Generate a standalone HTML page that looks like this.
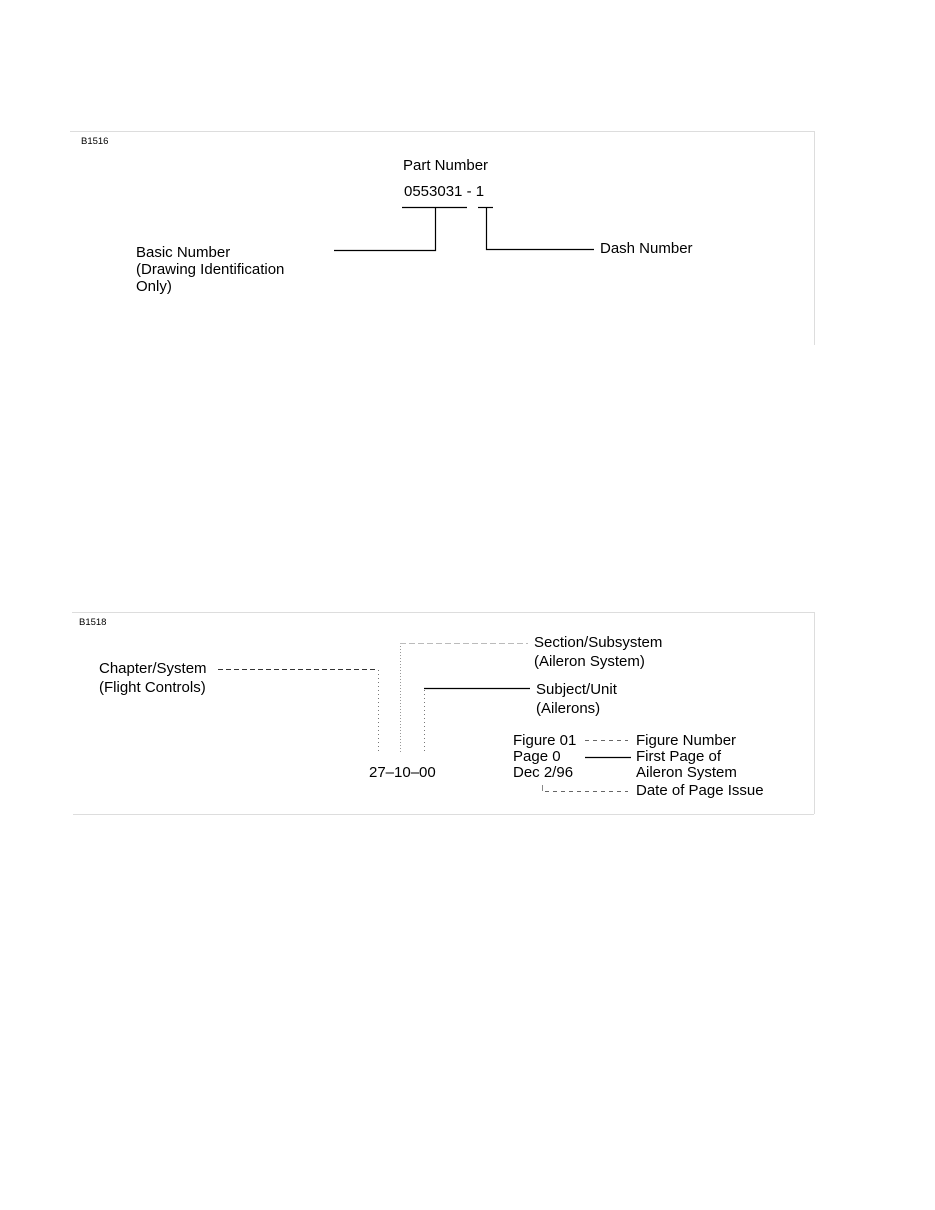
<!DOCTYPE html>
<html><head><style>body{margin:0;background:#fff}svg{display:block}text{font-family:"Liberation Sans",Arial,sans-serif;fill:#000}</style></head>
<body>
<svg width="935" height="1210" viewBox="0 0 935 1210" xmlns="http://www.w3.org/2000/svg">
<g stroke="#ddd" stroke-width="1" fill="none">
<line x1="70" y1="131.5" x2="814" y2="131.5"/>
<line x1="814.5" y1="131" x2="814.5" y2="345"/>
<line x1="72" y1="612.5" x2="814" y2="612.5"/>
<line x1="814.5" y1="612" x2="814.5" y2="814"/>
<line x1="73" y1="814.5" x2="814" y2="814.5"/>
</g>
<text x="81" y="144" font-size="9.5">B1516</text>
<text x="403" y="170" font-size="15">Part Number</text>
<text x="404" y="196" font-size="15">0553031 - 1</text>
<g stroke="#000" stroke-width="1.2" fill="none">
<line x1="402" y1="207.5" x2="467" y2="207.5"/>
<line x1="478" y1="207.5" x2="493" y2="207.5"/>
<polyline points="435.5,207 435.5,250.5 334,250.5"/>
<polyline points="486.5,207 486.5,249.5 594,249.5"/>
</g>
<text x="600" y="253" font-size="15">Dash Number</text>
<text x="136" y="257" font-size="15">Basic Number</text>
<text x="136" y="274" font-size="15">(Drawing Identification</text>
<text x="136" y="291" font-size="15">Only)</text>

<text x="79" y="625" font-size="9.5">B1518</text>
<text x="99" y="673" font-size="15">Chapter/System</text>
<text x="99" y="692" font-size="15">(Flight Controls)</text>
<text x="534" y="647" font-size="15">Section/Subsystem</text>
<text x="534" y="666" font-size="15">(Aileron System)</text>
<text x="536" y="694" font-size="15">Subject/Unit</text>
<text x="536" y="713" font-size="15">(Ailerons)</text>
<text x="369" y="777" font-size="15">27–10–00</text>
<g stroke-width="1" fill="none">
<line x1="218" y1="669.5" x2="378" y2="669.5" stroke="#333" stroke-dasharray="5,3"/>
<line x1="378.5" y1="670" x2="378.5" y2="752" stroke="#777" stroke-dasharray="1,3"/>
<line x1="400.5" y1="643" x2="400.5" y2="752" stroke="#999" stroke-dasharray="1,2"/>
<line x1="400" y1="643.5" x2="528" y2="643.5" stroke="#bbb" stroke-dasharray="6,3"/>
<line x1="424" y1="688.5" x2="530" y2="688.5" stroke="#000" stroke-width="1.2"/>
<line x1="424.5" y1="690" x2="424.5" y2="752" stroke="#777" stroke-dasharray="1,3"/>
<line x1="585" y1="740.5" x2="628" y2="740.5" stroke="#666" stroke-dasharray="4,4"/>
<line x1="585" y1="757.5" x2="631" y2="757.5" stroke="#000" stroke-width="1.2"/>
<line x1="542.5" y1="785" x2="542.5" y2="791" stroke="#888"/>
<line x1="545" y1="791.5" x2="628" y2="791.5" stroke="#666" stroke-dasharray="4,4"/>
</g>
<text x="513" y="745" font-size="15">Figure 01</text>
<text x="513" y="761" font-size="15">Page 0</text>
<text x="513" y="777" font-size="15">Dec 2/96</text>
<text x="636" y="745" font-size="15">Figure Number</text>
<text x="636" y="761" font-size="15">First Page of</text>
<text x="636" y="777" font-size="15">Aileron System</text>
<text x="636" y="795" font-size="15">Date of Page Issue</text>
</svg>
</body></html>
